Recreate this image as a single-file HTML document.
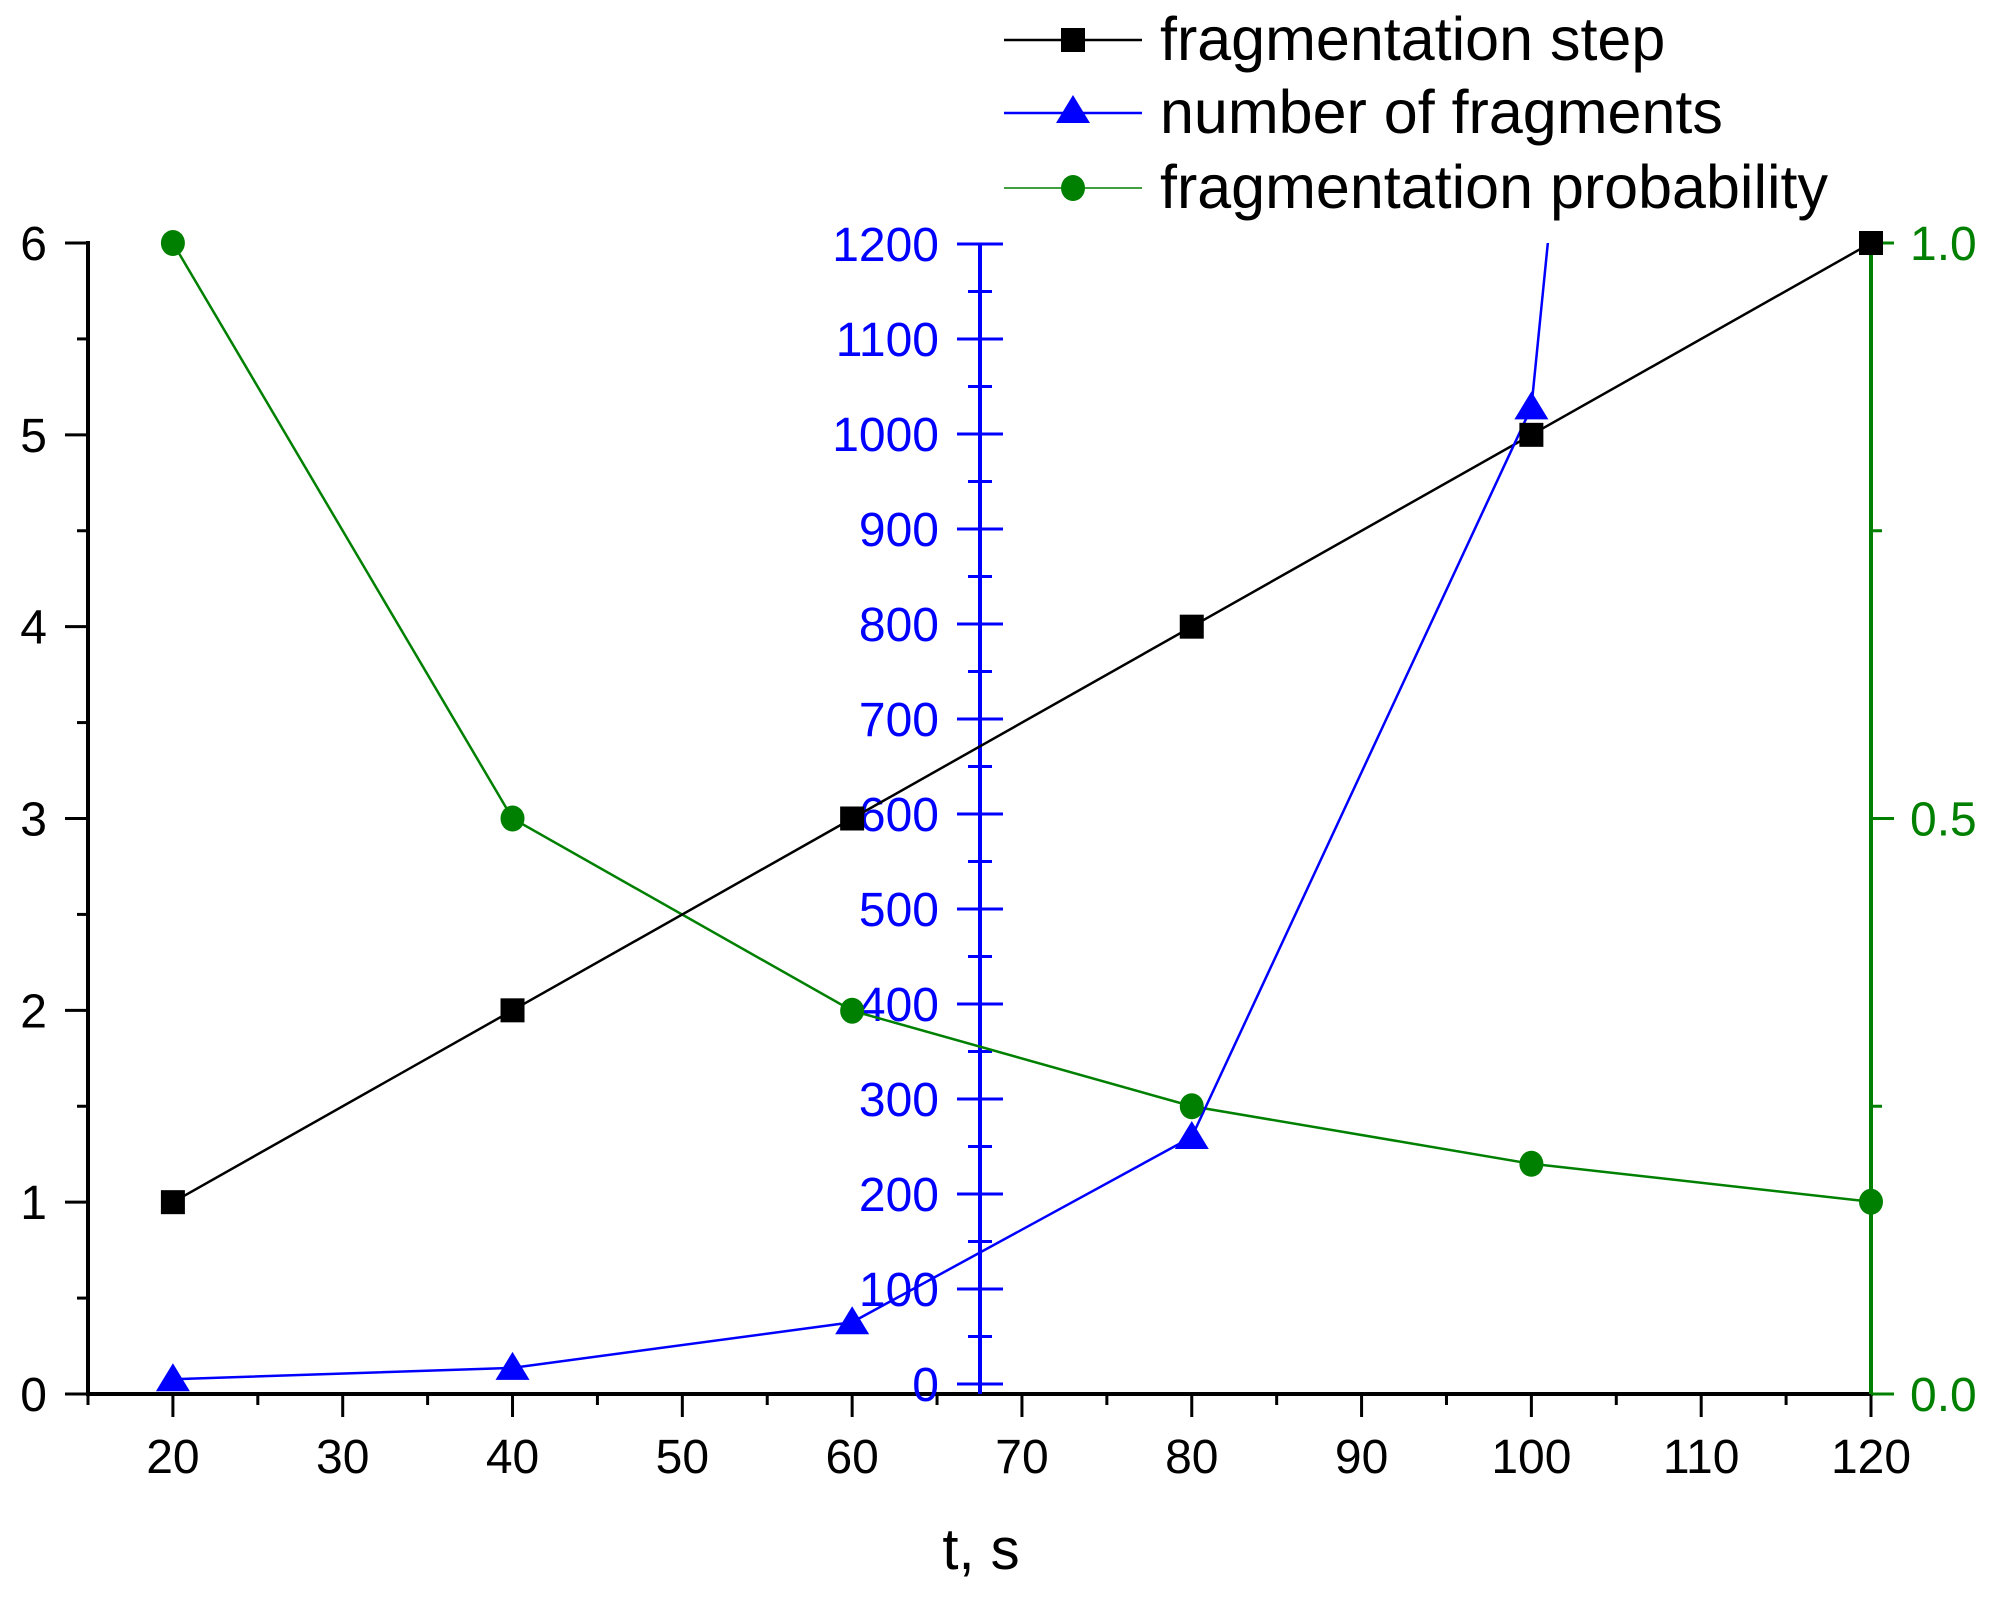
<!DOCTYPE html>
<html><head><meta charset="utf-8"><style>
html,body{margin:0;padding:0;background:#fff;}
svg{display:block;font-family:"Liberation Sans",Arial,sans-serif;}
</style></head><body>
<svg id="chart" width="1997" height="1597" viewBox="0 0 1997 1597" xmlns="http://www.w3.org/2000/svg">
<defs><clipPath id="plotclip"><rect x="88" y="243" width="1783" height="1151"/></clipPath></defs>
<g id="axes"></g>
<g id="series" clip-path="url(#plotclip)"></g>
<g id="markers"></g>
<g id="legend"></g>
<text x="981" y="1569" font-size="58" text-anchor="middle">t, s</text>
</svg>
<script>
const categories = [20, 40, 60, 80, 100, 120];
const stepValues = [1, 2, 3, 4, 5, 6];
const fragmentValues = [5, 17, 65, 260, 1028, 4600];
const probabilityValues = [1.0, 0.5, 0.333, 0.25, 0.2, 0.167];
const xTicks = [20, 30, 40, 50, 60, 70, 80, 90, 100, 110, 120];
const leftTicks = [0, 1, 2, 3, 4, 5, 6];
const blueTicks = [0, 100, 200, 300, 400, 500, 600, 700, 800, 900, 1000, 1100, 1200];
const greenTicks = ["0.0", "0.5", "1.0"];
const legendLabels = ["fragmentation step", "number of fragments", "fragmentation probability"];

const NS = "http://www.w3.org/2000/svg";
const X0 = 88, X1 = 1871, YB = 1394, YT = 243;
const FS = 48;
const xs = v => X0 + (v - 15) / (120 - 15) * (X1 - X0);
const yL = v => YB - v / 6 * (YB - YT);
const yB = v => 1384 - v / 1200 * (1384 - 244);
const yG = v => YB - v * (YB - YT);
const BLUE = "#0000ff", GREEN = "#008000";
function mk(tag, attrs, parent) {
  const e = document.createElementNS(NS, tag);
  for (const k in attrs) e.setAttribute(k, attrs[k]);
  parent.appendChild(e);
  return e;
}
const axes = document.getElementById("axes");
const series = document.getElementById("series");
const markers = document.getElementById("markers");
const legend = document.getElementById("legend");

// x axis
let el = mk("line", {x1: X0 - 2, y1: YB, x2: X1 + 2, y2: YB, stroke: "#000", "stroke-width": 4}, axes);


mk("line", {x1: X0, y1: YB, x2: X0, y2: YB + 11, stroke: "#000", "stroke-width": 3}, axes);
xTicks.forEach((t, i) => {
  mk("line", {x1: xs(t), y1: YB, x2: xs(t), y2: YB + 23, stroke: "#000", "stroke-width": 3}, axes);
  if (i < xTicks.length - 1) mk("line", {x1: xs(t + 5), y1: YB, x2: xs(t + 5), y2: YB + 11, stroke: "#000", "stroke-width": 3}, axes);
  const tx = mk("text", {x: xs(t), y: 1473, "font-size": FS, "text-anchor": "middle"}, axes);
  tx.textContent = t;
  
  
});
// left axis
el = mk("line", {x1: X0, y1: YT - 2, x2: X0, y2: YB, stroke: "#000", "stroke-width": 4}, axes);


leftTicks.forEach((t, i) => {
  mk("line", {x1: X0 - 23, y1: yL(t), x2: X0, y2: yL(t), stroke: "#000", "stroke-width": 3}, axes);
  if (i < leftTicks.length - 1) mk("line", {x1: X0 - 11, y1: yL(t + 0.5), x2: X0, y2: yL(t + 0.5), stroke: "#000", "stroke-width": 3}, axes);
  const tx = mk("text", {x: 47, y: yL(t) + 17, "font-size": FS, "text-anchor": "end"}, axes);
  tx.textContent = t;
  
  
});
// blue axis
const BX = 980;
el = mk("line", {x1: BX, y1: 244, x2: BX, y2: YB, stroke: BLUE, "stroke-width": 4}, axes);


blueTicks.forEach((t, i) => {
  mk("line", {x1: BX - 23, y1: yB(t), x2: BX + 23, y2: yB(t), stroke: BLUE, "stroke-width": 3}, axes);
  if (i < blueTicks.length - 1) mk("line", {x1: BX - 12, y1: yB(t + 50), x2: BX + 12, y2: yB(t + 50), stroke: BLUE, "stroke-width": 3}, axes);
  const tx = mk("text", {x: 939, y: yB(t) + 17, "font-size": FS, "text-anchor": "end", fill: BLUE}, axes);
  tx.textContent = t;
  
  
});
// green axis
el = mk("line", {x1: X1, y1: YT, x2: X1, y2: YB, stroke: GREEN, "stroke-width": 4}, axes);


greenTicks.forEach((t, i) => {
  const v = parseFloat(t);
  mk("line", {x1: X1, y1: yG(v), x2: X1 + 23, y2: yG(v), stroke: GREEN, "stroke-width": 3}, axes);
  if (i < greenTicks.length - 1) mk("line", {x1: X1, y1: yG(v + 0.25), x2: X1 + 11, y2: yG(v + 0.25), stroke: GREEN, "stroke-width": 3}, axes);
  const tx = mk("text", {x: 1910, y: yG(v) + 17, "font-size": FS, fill: GREEN}, axes);
  tx.textContent = t;
  
  
});

function poly(vals, fy, color, name) {
  const p = mk("polyline", {points: vals.map((v, i) => xs(categories[i]) + "," + fy(v)).join(" "), fill: "none", stroke: color, "stroke-width": 2.5}, series);
  
  
}
poly(probabilityValues, yG, GREEN, "probability-line");
poly(stepValues, yL, "#000", "step-line");
poly(fragmentValues, yB, BLUE, "fragments-line");

function square(cx, cy, color, parent) {
  return mk("rect", {x: cx - 12, y: cy - 12, width: 24, height: 24, fill: color}, parent);
}
function tri(cx, cy, parent) {
  return mk("polygon", {points: `${cx},${cy - 16} ${cx - 17},${cy + 12} ${cx + 17},${cy + 12}`, fill: BLUE}, parent);
}
function dot(cx, cy, parent) {
  return mk("ellipse", {cx: cx, cy: cy, rx: 12, ry: 13, fill: GREEN}, parent);
}
categories.forEach((c, i) => {
  let m = square(xs(c), yL(stepValues[i]), "#000", markers);
  
  
  if (fragmentValues[i] <= 1200) {
    m = tri(xs(c), yB(fragmentValues[i]), markers);
    
    
  }
  m = dot(xs(c), yG(probabilityValues[i]), markers);
  
  
});

// legend
const rows = [40, 113, 188];
const colors = ["#000", BLUE, GREEN];
legendLabels.forEach((lab, i) => {
  const g = mk("g", {}, legend);
  
  
  mk("line", {x1: 1004, y1: rows[i], x2: 1142, y2: rows[i], stroke: colors[i], "stroke-width": i === 2 ? 1.5 : 2.5}, g);
  if (i === 0) square(1073, rows[i], "#000", g);
  if (i === 1) tri(1073, rows[i] - 2, g);
  if (i === 2) dot(1073, rows[i], g);
  const tx = mk("text", {x: 1160, y: rows[i] + 20, "font-size": 61}, g);
  tx.textContent = lab;
});
</script>
</body></html>
